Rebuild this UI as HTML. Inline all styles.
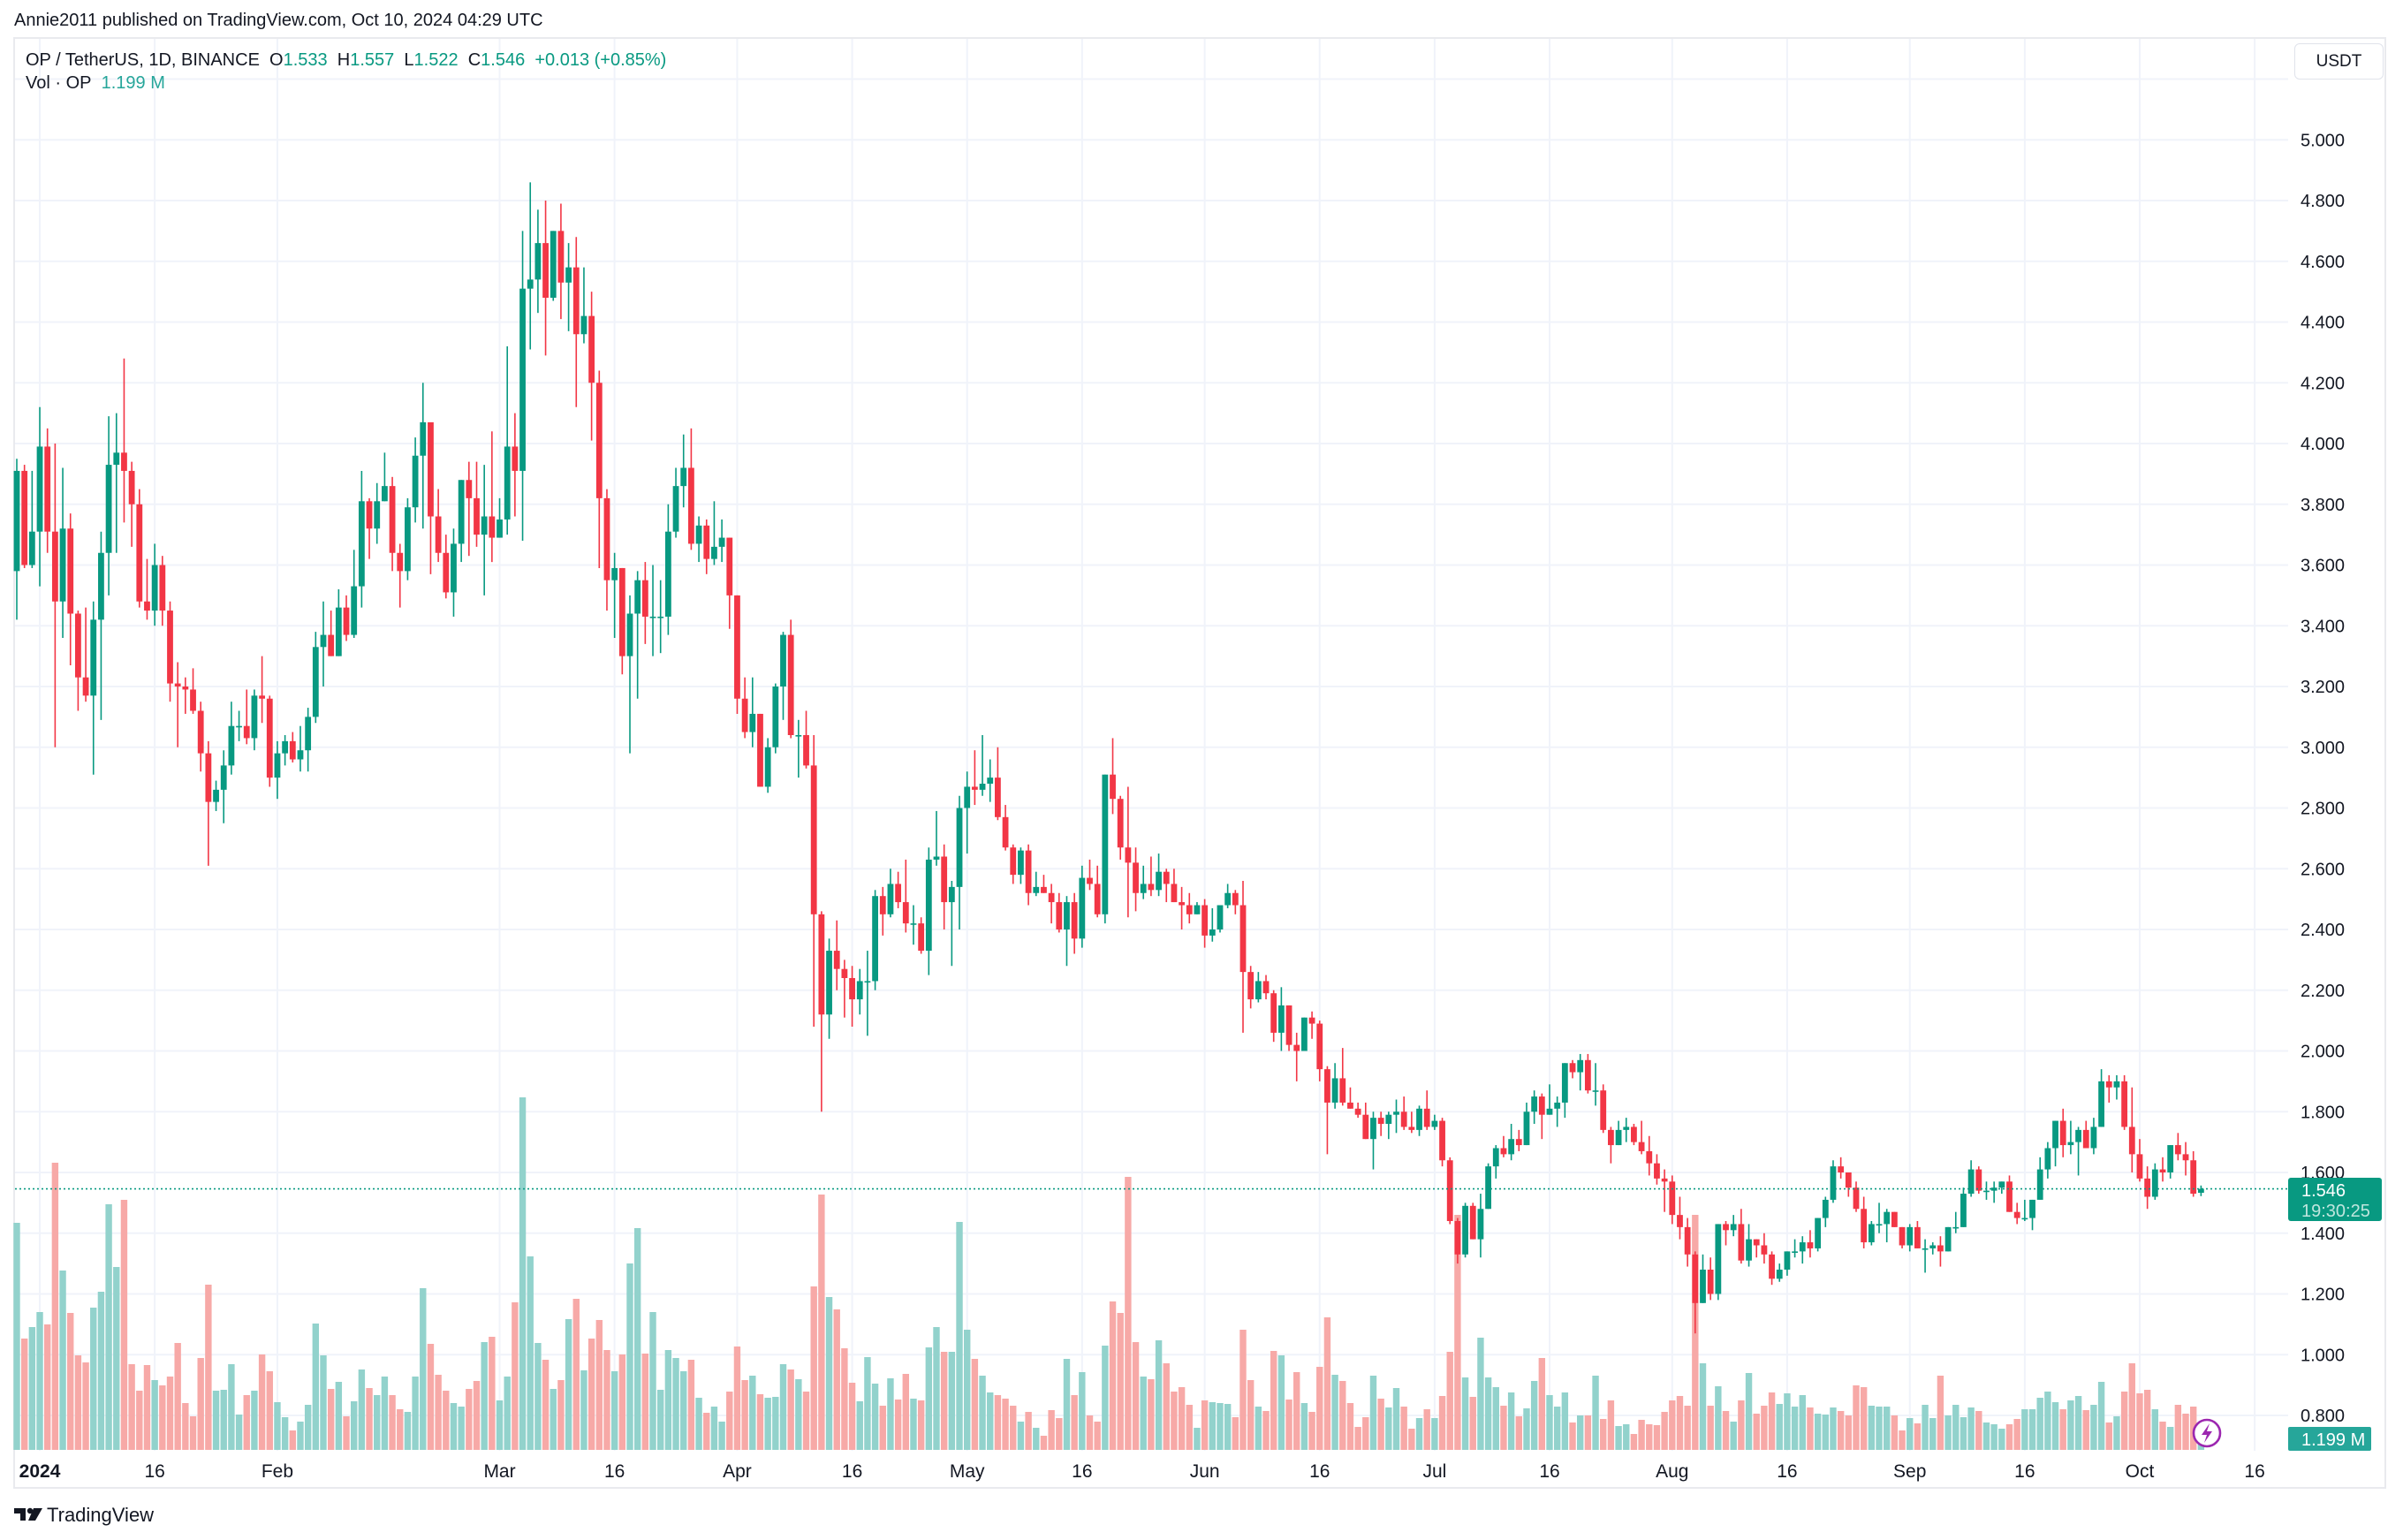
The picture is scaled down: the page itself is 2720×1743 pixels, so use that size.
<!DOCTYPE html>
<html><head><meta charset="utf-8">
<style>
html,body{margin:0;padding:0;background:#fff;}
body{width:2720px;height:1743px;position:relative;overflow:hidden;font-family:"Liberation Sans",sans-serif;color:#131722;}
#pub{position:absolute;left:16px;top:12px;font-size:20px;}
#frame{position:absolute;left:15px;top:42px;width:2686px;height:1643px;border:2px solid #e9eaee;box-sizing:border-box;}
#legend1{position:absolute;left:29px;top:57px;font-size:20px;white-space:nowrap;}
#legend2{position:absolute;left:29px;top:83px;font-size:20px;white-space:nowrap;}
.g{color:#089981;}
.vg{color:#26a69a;}
#usdt{position:absolute;left:2597px;top:49px;width:101px;height:41px;border:1px solid #e0e3eb;border-radius:6px;box-sizing:border-box;font-size:19px;text-align:center;line-height:39px;background:#fff;}
#tvlogo{position:absolute;left:16px;top:1700px;}
#tvtext{position:absolute;left:53px;top:1702px;font-size:22px;}
svg{position:absolute;left:0;top:0;}
</style></head>
<body>
<div id="pub">Annie2011 published on TradingView.com, Oct 10, 2024 04:29 UTC</div>
<div id="frame"></div>
<svg id="chart" width="2720" height="1743"></svg>
<div id="legend1">OP / TetherUS, 1D, BINANCE&nbsp; O<span class="g">1.533</span>&nbsp; H<span class="g">1.557</span>&nbsp; L<span class="g">1.522</span>&nbsp; C<span class="g">1.546</span>&nbsp; <span class="g">+0.013 (+0.85%)</span></div>
<div id="legend2">Vol · OP&nbsp; <span class="vg">1.199 M</span></div>
<div id="usdt">USDT</div>
<svg id="tvlogo" width="34" height="24" style="left:16px;top:1705px">
<path d="M0 2 H13 V16 H7 V8 H0 Z" fill="#131722"/>
<circle cx="18" cy="5" r="3.2" fill="#131722"/>
<path d="M22 2 H32 L24 16 H16 Z" fill="#131722"/>
</svg>
<div id="tvtext">TradingView</div>
<script>
const closes=[3.91,3.60,3.71,3.99,3.71,3.48,3.72,3.44,3.23,3.17,
3.42,3.64,3.93,3.97,3.91,3.80,3.48,3.45,3.60,3.45,
3.21,3.20,3.19,3.12,2.98,2.82,2.86,2.94,3.07,3.07,
3.03,3.17,3.16,2.90,2.98,3.02,2.96,2.99,3.10,3.33,
3.37,3.30,3.46,3.37,3.53,3.81,3.72,3.81,3.86,3.64,
3.58,3.79,3.96,4.07,3.76,3.64,3.51,3.67,3.88,3.82,
3.70,3.76,3.69,3.75,3.99,3.91,4.51,4.54,4.66,4.48,
4.70,4.53,4.58,4.36,4.42,4.20,3.82,3.55,3.59,3.30,
3.44,3.55,3.43,3.43,3.43,3.71,3.86,3.92,3.67,3.73,
3.62,3.66,3.69,3.50,3.16,3.05,3.11,2.87,3.00,3.20,
3.37,3.04,3.04,2.94,2.45,2.12,2.33,2.27,2.24,2.17,
2.23,2.23,2.51,2.45,2.55,2.49,2.42,2.42,2.33,2.63,
2.64,2.49,2.54,2.80,2.87,2.86,2.88,2.90,2.77,2.67,
2.58,2.66,2.52,2.54,2.52,2.49,2.40,2.49,2.37,2.57,
2.55,2.45,2.91,2.83,2.67,2.62,2.52,2.55,2.53,2.59,
2.55,2.49,2.48,2.45,2.48,2.38,2.40,2.48,2.52,2.48,
2.26,2.17,2.23,2.19,2.06,2.15,2.02,2.00,2.11,2.09,
1.94,1.83,1.91,1.83,1.81,1.79,1.71,1.78,1.76,1.79,
1.80,1.75,1.74,1.81,1.75,1.77,1.64,1.44,1.33,1.49,
1.38,1.48,1.62,1.68,1.66,1.71,1.69,1.80,1.85,1.79,
1.81,1.83,1.96,1.93,1.97,1.87,1.87,1.74,1.69,1.74,
1.75,1.70,1.67,1.63,1.58,1.57,1.46,1.42,1.33,1.17,
1.28,1.20,1.43,1.41,1.43,1.31,1.38,1.36,1.33,1.25,
1.28,1.34,1.34,1.37,1.35,1.45,1.51,1.62,1.60,1.55,
1.48,1.37,1.43,1.43,1.47,1.42,1.36,1.42,1.35,1.35,
1.36,1.34,1.42,1.42,1.53,1.61,1.54,1.54,1.55,1.57,
1.47,1.45,1.45,1.51,1.61,1.68,1.77,1.69,1.70,1.74,
1.68,1.75,1.90,1.88,1.90,1.75,1.66,1.58,1.52,1.61,
1.60,1.69,1.66,1.64,1.53,1.546];
const opens=[3.58,3.91,3.60,3.71,3.99,3.71,3.48,3.72,3.44,3.23,
3.17,3.42,3.64,3.93,3.97,3.91,3.80,3.48,3.45,3.60,
3.45,3.21,3.20,3.19,3.12,2.98,2.82,2.86,2.94,3.07,
3.07,3.03,3.17,3.16,2.90,2.98,3.02,2.96,2.99,3.10,
3.33,3.37,3.30,3.46,3.37,3.53,3.81,3.72,3.81,3.86,
3.64,3.58,3.79,3.96,4.07,3.76,3.64,3.51,3.67,3.88,
3.82,3.70,3.76,3.69,3.75,3.99,3.91,4.51,4.54,4.66,
4.48,4.70,4.53,4.58,4.36,4.42,4.20,3.82,3.55,3.59,
3.30,3.44,3.55,3.43,3.43,3.43,3.71,3.86,3.92,3.67,
3.73,3.62,3.66,3.69,3.50,3.16,3.05,3.11,2.87,3.00,
3.20,3.37,3.04,3.04,2.94,2.45,2.12,2.33,2.27,2.24,
2.17,2.23,2.23,2.51,2.45,2.55,2.49,2.42,2.42,2.33,
2.63,2.64,2.49,2.54,2.80,2.87,2.86,2.88,2.90,2.77,
2.67,2.58,2.66,2.52,2.54,2.52,2.49,2.40,2.49,2.37,
2.57,2.55,2.45,2.91,2.83,2.67,2.62,2.52,2.55,2.53,
2.59,2.55,2.49,2.48,2.45,2.48,2.38,2.40,2.48,2.52,
2.48,2.26,2.17,2.23,2.19,2.06,2.15,2.02,2.00,2.11,
2.09,1.94,1.83,1.91,1.83,1.81,1.79,1.71,1.78,1.76,
1.79,1.80,1.75,1.74,1.81,1.75,1.77,1.64,1.44,1.33,
1.49,1.38,1.48,1.62,1.68,1.66,1.71,1.69,1.80,1.85,
1.79,1.81,1.83,1.96,1.93,1.97,1.87,1.87,1.74,1.69,
1.74,1.75,1.70,1.67,1.63,1.58,1.57,1.46,1.42,1.33,
1.17,1.28,1.20,1.43,1.41,1.43,1.31,1.38,1.36,1.33,
1.25,1.28,1.34,1.34,1.37,1.35,1.45,1.51,1.62,1.60,
1.55,1.48,1.37,1.43,1.43,1.47,1.42,1.36,1.42,1.35,
1.35,1.36,1.34,1.42,1.42,1.53,1.61,1.54,1.54,1.55,
1.57,1.47,1.45,1.45,1.51,1.61,1.68,1.77,1.69,1.70,
1.74,1.68,1.75,1.90,1.88,1.90,1.75,1.66,1.58,1.52,
1.61,1.60,1.69,1.66,1.64,1.533];
const highs=[3.95,3.93,3.91,4.12,4.05,4.00,3.92,3.77,3.45,3.46,
3.48,3.71,4.09,4.10,4.28,3.94,3.85,3.62,3.67,3.63,
3.48,3.28,3.23,3.26,3.15,3.02,2.89,2.99,3.15,3.12,
3.19,3.19,3.30,3.17,3.02,3.04,3.05,3.07,3.13,3.38,
3.48,3.45,3.52,3.50,3.65,3.91,3.82,3.87,3.97,3.89,
3.67,3.82,4.02,4.20,4.07,3.85,3.70,3.72,3.88,3.94,
3.94,3.93,4.04,3.82,4.32,4.10,4.70,4.86,4.77,4.80,
4.70,4.79,4.66,4.68,4.58,4.50,4.24,3.85,3.64,3.59,
3.50,3.58,3.61,3.60,3.55,3.80,3.92,4.03,4.05,3.76,
3.75,3.81,3.75,3.69,3.50,3.23,3.23,3.11,3.03,3.21,
3.38,3.42,3.09,3.12,3.04,2.46,2.37,2.43,2.30,2.28,
2.27,2.33,2.53,2.54,2.60,2.59,2.63,2.48,2.44,2.67,
2.79,2.68,2.56,2.84,2.92,2.99,3.04,2.96,3.00,2.81,
2.68,2.67,2.68,2.59,2.58,2.55,2.52,2.51,2.52,2.61,
2.63,2.61,2.91,3.03,2.84,2.87,2.67,2.61,2.64,2.65,
2.60,2.60,2.54,2.52,2.49,2.50,2.47,2.48,2.55,2.53,
2.56,2.28,2.26,2.25,2.20,2.21,2.15,2.06,2.11,2.13,
2.10,1.95,1.96,2.01,1.88,1.83,1.83,1.80,1.80,1.80,
1.84,1.85,1.80,1.82,1.87,1.79,1.78,1.65,1.45,1.50,
1.50,1.53,1.63,1.69,1.72,1.76,1.74,1.83,1.87,1.86,
1.89,1.85,1.96,1.97,1.99,1.99,1.96,1.89,1.75,1.77,
1.78,1.76,1.77,1.72,1.66,1.61,1.59,1.52,1.45,1.34,
1.33,1.32,1.43,1.44,1.46,1.48,1.43,1.37,1.40,1.34,
1.30,1.34,1.38,1.39,1.41,1.45,1.52,1.64,1.65,1.55,
1.57,1.52,1.44,1.50,1.48,1.47,1.42,1.43,1.44,1.38,
1.37,1.39,1.42,1.47,1.55,1.64,1.62,1.57,1.57,1.57,
1.59,1.50,1.51,1.51,1.65,1.70,1.77,1.81,1.77,1.75,
1.77,1.78,1.94,1.92,1.92,1.92,1.88,1.71,1.62,1.63,
1.65,1.69,1.73,1.70,1.67,1.557];
const lows=[3.42,3.59,3.59,3.53,3.64,3.00,3.36,3.27,3.12,3.15,
2.91,3.09,3.50,3.64,3.74,3.66,3.46,3.42,3.40,3.40,
3.15,3.00,3.11,3.11,2.92,2.61,2.79,2.75,2.91,3.02,
3.01,2.99,3.08,2.87,2.83,2.94,2.95,2.92,2.92,3.08,
3.20,3.30,3.30,3.35,3.36,3.46,3.62,3.67,3.81,3.58,
3.46,3.55,3.74,3.72,3.57,3.61,3.49,3.43,3.61,3.63,
3.66,3.50,3.61,3.70,3.70,3.76,3.68,4.31,4.43,4.29,
4.47,4.41,4.37,4.12,4.33,4.01,3.59,3.45,3.36,3.24,
2.98,3.16,3.34,3.30,3.31,3.37,3.69,3.79,3.65,3.61,
3.57,3.60,3.61,3.39,3.11,3.03,3.00,2.87,2.85,2.98,
3.09,3.03,2.90,2.93,2.08,1.80,2.04,2.20,2.11,2.08,
2.12,2.05,2.20,2.38,2.44,2.47,2.39,2.35,2.32,2.25,
2.61,2.40,2.28,2.40,2.65,2.81,2.84,2.82,2.76,2.66,
2.55,2.55,2.48,2.51,2.52,2.42,2.39,2.28,2.32,2.34,
2.53,2.44,2.42,2.78,2.63,2.44,2.46,2.50,2.51,2.51,
2.49,2.49,2.40,2.42,2.45,2.34,2.36,2.39,2.47,2.45,
2.06,2.14,2.16,2.17,2.03,2.00,2.00,1.90,2.00,2.04,
1.90,1.66,1.81,1.82,1.81,1.78,1.71,1.61,1.72,1.71,
1.73,1.74,1.73,1.72,1.74,1.74,1.62,1.43,1.30,1.32,
1.38,1.32,1.48,1.58,1.65,1.64,1.67,1.69,1.76,1.71,
1.79,1.75,1.78,1.91,1.87,1.86,1.82,1.73,1.63,1.69,
1.70,1.69,1.66,1.59,1.56,1.47,1.43,1.38,1.29,1.07,
1.17,1.18,1.18,1.36,1.39,1.30,1.29,1.32,1.30,1.23,
1.24,1.26,1.32,1.30,1.32,1.34,1.42,1.50,1.58,1.52,
1.47,1.35,1.36,1.40,1.37,1.42,1.35,1.34,1.35,1.27,
1.33,1.29,1.34,1.40,1.42,1.52,1.53,1.51,1.50,1.53,
1.47,1.43,1.44,1.41,1.51,1.58,1.62,1.65,1.66,1.59,
1.68,1.66,1.75,1.83,1.84,1.74,1.60,1.57,1.48,1.51,
1.57,1.58,1.64,1.59,1.52,1.522];
// volume in units of ~48K OP
const volumes=[257,126,139,156,142,325,203,155,107,99,
161,179,278,207,283,97,67,96,79,73,
83,121,53,38,104,187,67,68,97,40,
62,67,108,89,54,37,22,32,51,143,
107,69,77,38,55,91,70,62,83,62,
46,43,83,183,120,85,67,53,49,69,
78,122,128,56,83,167,399,219,121,102,
69,79,148,171,90,126,147,113,89,108,
211,251,109,156,68,113,104,89,102,59,
42,49,32,66,117,79,84,63,59,60,
97,91,80,66,185,289,173,159,115,76,
55,105,75,50,81,57,86,58,56,116,
139,111,111,258,136,103,84,65,62,58,
50,32,43,25,16,45,36,103,62,88,
39,32,118,168,155,309,122,83,80,124,
98,66,71,51,25,56,54,53,52,37,
136,79,49,44,112,107,57,88,53,43,
94,150,85,78,53,26,37,84,58,48,
70,49,24,36,46,36,61,111,266,82,
60,127,82,71,50,65,38,47,78,104,
62,49,65,31,39,39,84,35,56,27,
29,18,34,29,28,43,56,61,50,266,
98,50,72,44,32,56,87,41,50,65,
52,64,49,62,48,41,40,48,44,39,
73,71,50,49,49,39,22,36,30,51,
36,84,39,51,37,48,44,31,29,24,
29,35,46,46,59,66,54,46,56,61,
45,51,77,31,38,66,98,64,68,46,
32,26,51,41,49,24];
const priceTicks=[0.8,1.0,1.2,1.4,1.6,1.8,2.0,2.2,2.4,2.6,2.8,3.0,3.2,3.4,3.6,3.8,4.0,4.2,4.4,4.6,4.8,5.0];
const dateLabels=["2024","16","Feb","Mar","16","Apr","16","May","16","Jun","16","Jul","16","Aug","16","Sep","16","Oct","16"];
const dateIndex=[3,18,34,63,78,94,109,124,139,155,170,185,200,216,231,247,262,277,292];
const lastPrice=1.546;

const NS="http://www.w3.org/2000/svg";
const svg=document.getElementById('chart');
const PL=17,PR=2590,PT=44,PB=1642;
const X0=19,STEP=8.675;
function xOf(i){return X0+i*STEP;}
function yOf(p){return 1327-(p-1.6)*343.75;}
const VB=1641,VS=1.0;
function vh(v){return v*VS;}
function mk(tag,attrs,parent){const e=document.createElementNS(NS,tag);for(const k in attrs)e.setAttribute(k,attrs[k]);(parent||svg).appendChild(e);return e;}

const grid=mk('g',{});


[...priceTicks,5.2].forEach(p=>{const l=mk('line',{x1:PL,x2:PR,y1:yOf(p),y2:yOf(p),stroke:'#f0f3fa','stroke-width':2},grid);

});
dateIndex.forEach(i=>{const l=mk('line',{x1:xOf(i),x2:xOf(i),y1:PT,y2:PB,stroke:'#f0f3fa','stroke-width':2},grid);

});

const volG=mk('g',{});


volumes.forEach((v,i)=>{const up=closes[i]>=opens[i];const h=vh(v);
const r=mk('rect',{x:xOf(i)-3.7,y:VB-h,width:7.4,height:h,fill:up?'#92d2cc':'#f7a9a7'},volG);

});

const cG=mk('g',{});


closes.forEach((c,i)=>{const o=opens[i];const up=c>=o;const col=up?'#089981':'#f23645';
const hi=Math.max(highs[i],o,c),lo=Math.min(lows[i],o,c);const x=xOf(i);
const g=mk('g',{},cG);


mk('line',{x1:x,x2:x,y1:yOf(hi),y2:yOf(lo),stroke:col,'stroke-width':1.6},g);
const yt=yOf(Math.max(o,c)),yb=yOf(Math.min(o,c));
mk('rect',{x:x-3.4,y:yt,width:6.8,height:Math.max(1.6,yb-yt),fill:col},g);});

const pl=mk('line',{x1:PL,x2:PR,y1:yOf(lastPrice),y2:yOf(lastPrice),stroke:'#089981','stroke-width':1.6,'stroke-dasharray':'2 3'});



const axG=mk('g',{});


priceTicks.forEach(p=>{const t=mk('text',{x:2604,y:yOf(p)+7,'font-size':20,fill:'#131722','font-family':'Liberation Sans, sans-serif'},axG);
t.textContent=p.toFixed(3);

});

const tG=mk('g',{});


dateLabels.forEach((s,k)=>{const t=mk('text',{x:xOf(dateIndex[k]),y:1672,'font-size':21,'text-anchor':'middle',fill:'#131722','font-weight':s==='2024'?'bold':'normal','font-family':'Liberation Sans, sans-serif'},tG);
t.textContent=s;

});

const pb=mk('g',{});


mk('rect',{x:2590,y:1333,width:106,height:49,rx:3,fill:'#089981'},pb);
const t1=mk('text',{x:2605,y:1354,'font-size':20,fill:'#fff','font-family':'Liberation Sans, sans-serif'},pb);t1.textContent='1.546';
const t2=mk('text',{x:2605,y:1377,'font-size':20,fill:'#bfe6de','font-family':'Liberation Sans, sans-serif'},pb);t2.textContent='19:30:25';

const vb=mk('g',{});


mk('rect',{x:2590,y:1615,width:94,height:27,rx:2,fill:'#26a69a'},vb);
const t3=mk('text',{x:2605,y:1636,'font-size':20,fill:'#fff','font-family':'Liberation Sans, sans-serif'},vb);t3.textContent='1.199 M';

const lz=mk('g',{});


mk('circle',{cx:2498,cy:1622,r:15,fill:'#fff',stroke:'#9c27b0','stroke-width':2.6},lz);
mk('path',{d:'M2501 1611 L2492 1624 H2498 L2495 1633 L2504 1620 H2498 Z',fill:'#9c27b0'},lz);
</script>
</body></html>
